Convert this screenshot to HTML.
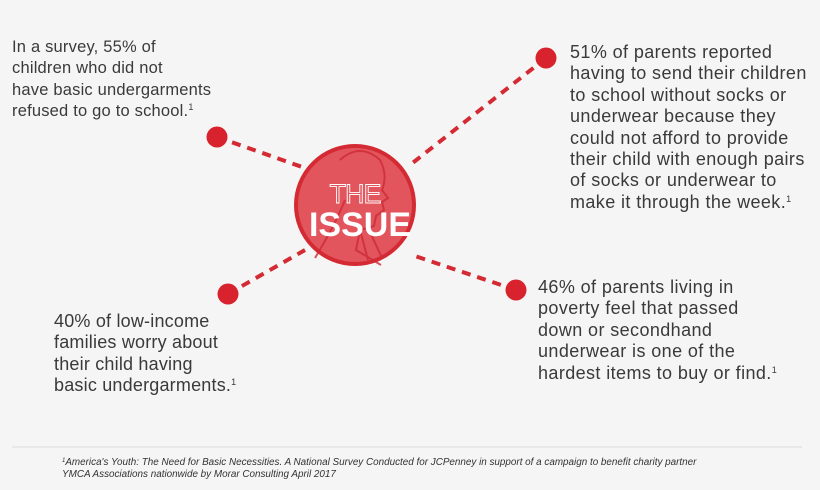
<!DOCTYPE html>
<html><head><style>
body{margin:0;width:820px;height:490px;background:#f5f5f5;overflow:hidden;font-family:"Liberation Sans",sans-serif;position:relative}
.t{position:absolute;font-size:16.5px;line-height:21.3px;color:#3a3a3a;letter-spacing:0.2px;white-space:nowrap}
.b{font-size:18px;line-height:21.4px;letter-spacing:0.4px}
sup{font-size:9px;vertical-align:6px;line-height:0}
.fn{position:absolute;left:62px;top:457px;font-size:9.9px;line-height:11.5px;font-style:italic;color:#333;white-space:nowrap}
</style></head><body>
<svg width="820" height="490" style="position:absolute;left:0;top:0">
<g stroke="#d42a33" stroke-width="4" stroke-dasharray="9,7" fill="none">
<line x1="217" y1="137" x2="305" y2="168"/>
<line x1="546" y1="58" x2="410" y2="165"/>
<line x1="228" y1="294" x2="305" y2="250"/>
<line x1="516" y1="290" x2="412" y2="255"/>
</g>
<g fill="#d8222d">
<circle cx="217" cy="137" r="10.5"/>
<circle cx="546" cy="58" r="10.5"/>
<circle cx="228" cy="294" r="10.5"/>
<circle cx="516" cy="290" r="10.5"/>
</g>
<circle cx="355" cy="205" r="59" fill="#e2555d" stroke="#d42a33" stroke-width="4"/>
<g stroke="#cf2a34" stroke-width="2" fill="none" opacity="0.8">
<path d="M340 160 q20 -18 40 0 q8 15 2 30 l6 8 -6 4 2 8 -8 6 -2 10 -14 4 -4 20 25 15"/>
<path d="M345 200 q-10 25 -30 58"/>
<path d="M360 230 l8 30 M370 232 l12 26"/>
</g>
<text x="355" y="203" text-anchor="middle" font-family="Liberation Sans" font-size="27" fill="none" stroke="#fff" stroke-width="0.9" letter-spacing="-1">THE</text>
<text x="360" y="236" text-anchor="middle" font-family="Liberation Sans" font-weight="bold" font-size="34" fill="#fff">ISSUE</text>
<line x1="12" y1="447" x2="802" y2="447" stroke="#dcdcdc" stroke-width="1"/>
</svg>
<div class="t" style="left:12px;top:37px">In a survey, 55% of<br>children who did not<br>have basic undergarments<br>refused to go to school.<sup>1</sup></div>
<div class="t b" style="left:570px;top:42px">51% of parents reported<br>having to send their children<br>to school without socks or<br>underwear because they<br>could not afford to provide<br>their child with enough pairs<br>of socks or underwear to<br>make it through the week.<sup>1</sup></div>
<div class="t b" style="left:54px;top:311px;letter-spacing:0.2px">40% of low-income<br>families worry about<br>their child having<br>basic undergarments.<sup>1</sup></div>
<div class="t b" style="left:538px;top:277px">46% of parents living in<br>poverty feel that passed<br>down or secondhand<br>underwear is one of the<br>hardest items to buy or find.<sup>1</sup></div>
<div class="fn"><sup style="font-size:6px;vertical-align:3px">1</sup>America's Youth: The Need for Basic Necessities. A National Survey Conducted for JCPenney in support of a campaign to benefit charity partner<br>YMCA Associations nationwide by Morar Consulting April 2017</div>
</body></html>
